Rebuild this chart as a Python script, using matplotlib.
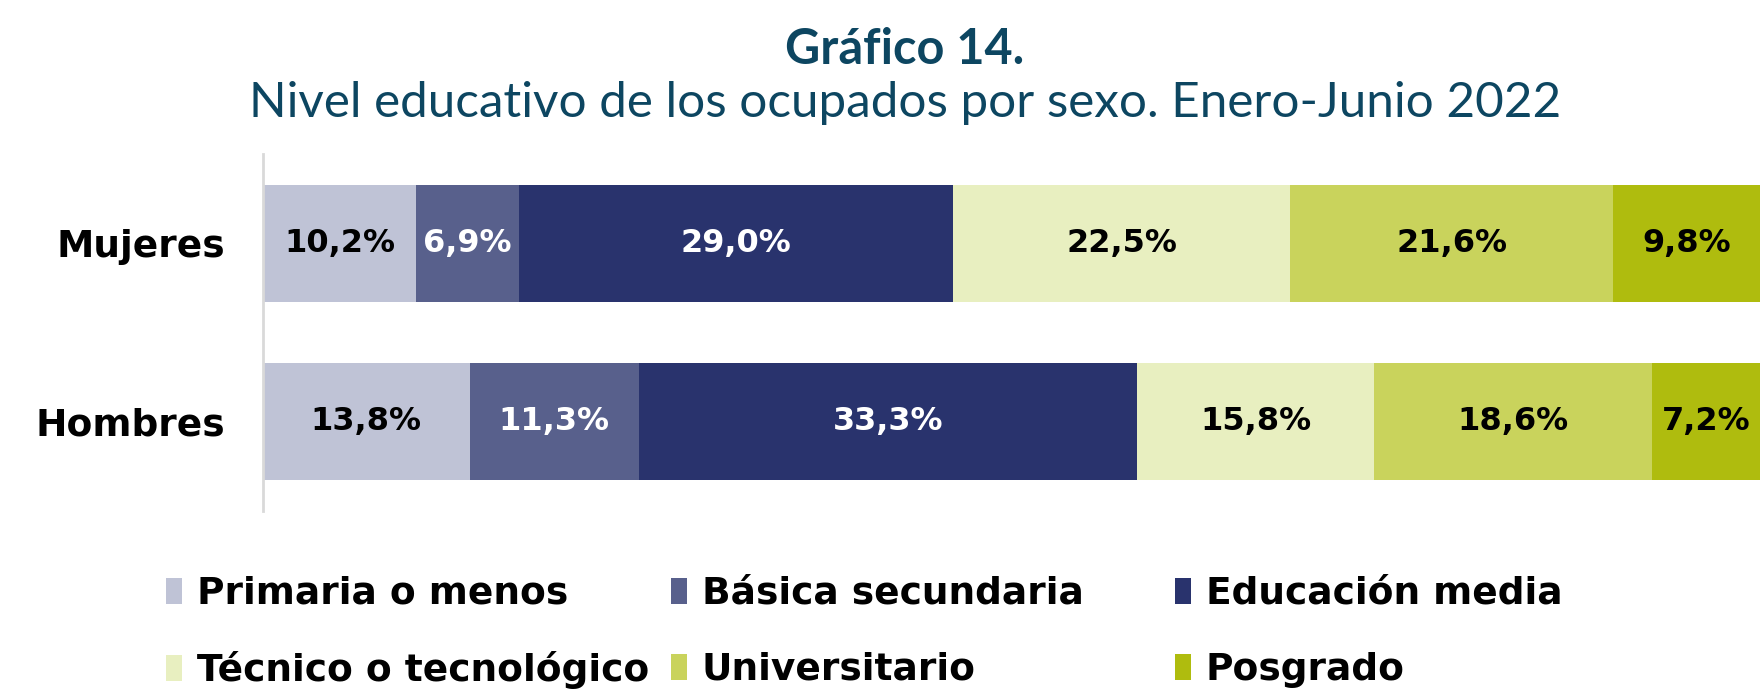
import numpy as np
import matplotlib.pyplot as plt
from matplotlib.patches import Patch

# Datos (porcentajes por nivel educativo)
grupos = ["Mujeres", "Hombres"]
niveles = ["Primaria o menos", "Básica secundaria", "Educación media",
           "Técnico o tecnológico", "Universitario", "Posgrado"]
mujeres = [10.2, 6.9, 29.0, 22.5, 21.6, 9.8]
hombres = [13.8, 11.3, 33.3, 15.8, 18.6, 7.2]

colores = ["#bfc3d6", "#58608c", "#29336d", "#e8efc0", "#c9d35c", "#afbc0e"]
color_texto = ["black", "white", "white", "black", "black", "black"]
titulo_color = "#0d4661"

fig = plt.figure(figsize=(17.62, 6.9), dpi=100)
ax = fig.add_axes([0.1493, 0.2594, 0.8496, 0.5174])

valores = np.array([mujeres, hombres])
ypos = np.array([1, 0])
izq = np.zeros(len(grupos))
for i, nivel in enumerate(niveles):
    v = valores[:, i]
    ax.barh(ypos, v, left=izq, height=0.655, color=colores[i], label=nivel)
    for y, l, w in zip(ypos, izq, v):
        ax.text(l + w / 2, y, f"{w:.1f}%".replace(".", ","), ha="center", va="center",
                fontsize=23, fontweight="bold", color=color_texto[i])
    izq = izq + v

ax.set_xlim(0, 100)
ax.set_ylim(-0.5, 1.5)
ax.set_xticks([])
ax.set_yticks(ypos)
ax.set_yticklabels(grupos, fontsize=27, fontweight="bold")
ax.tick_params(axis="y", length=0, pad=27)
for s in ["top", "right", "bottom"]:
    ax.spines[s].set_visible(False)
ax.spines["left"].set_color("#d9d9d9")
ax.spines["left"].set_linewidth(2)

fig.text(0.5136, 0.907, "Gráfico 14.", ha="center", va="baseline",
         fontsize=35, fontweight="bold", color=titulo_color, family="Lato")
fig.text(0.5136, 0.830, "Nivel educativo de los ocupados por sexo. Enero-Junio 2022",
         ha="center", va="baseline", fontsize=35.6, color=titulo_color, family="Lato")

# leyenda: una entrada por posición (3 columnas x 2 filas)
col_x = [166 / 1762, 671 / 1762, 1175 / 1762]
fila_y = [1 - 594 / 690, 1 - 670 / 690]
for k, nivel in enumerate(niveles):
    c, f = k % 3, k // 3
    fig.legend([Patch(facecolor=colores[k], edgecolor="none")], [nivel],
               loc="center left", bbox_to_anchor=(col_x[c], fila_y[f]), frameon=False,
               prop={"size": 27, "weight": "bold"}, borderpad=0, borderaxespad=0,
               handlelength=0.43, handleheight=0.67, handletextpad=0.39)

fig.savefig("out.png", dpi=100)
